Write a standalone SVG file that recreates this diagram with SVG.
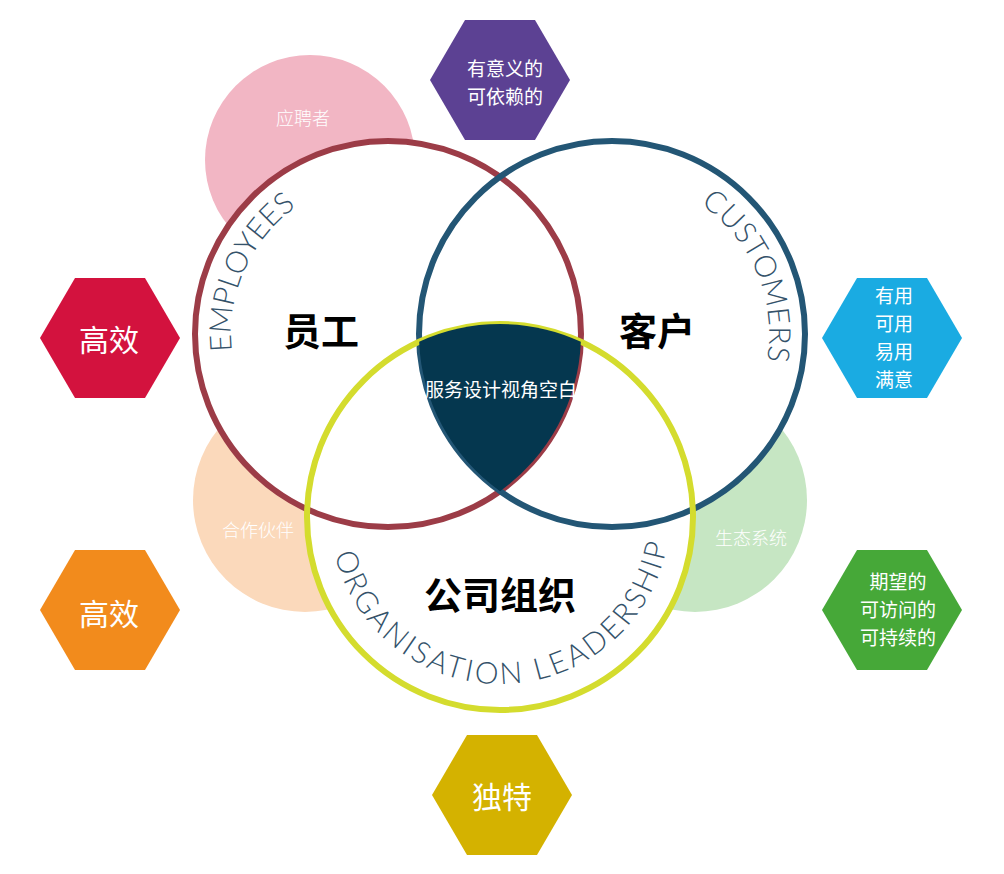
<svg xmlns="http://www.w3.org/2000/svg" width="1004" height="874" viewBox="0 0 1004 874">
<style>
.cjk{font-family:"Noto Sans CJK SC","Noto Sans",sans-serif;}
.hex-t{fill:#fff;font-size:19px;text-anchor:middle;dominant-baseline:central;}
.big-t{fill:#fff;font-size:30px;text-anchor:middle;dominant-baseline:central;}
.sm-t{fill:#fff;font-size:18px;font-weight:300;text-anchor:middle;dominant-baseline:central;}
.lbl{fill:#000;font-size:38px;font-weight:bold;text-anchor:middle;dominant-baseline:central;}
.arc-t{font-family:Lato,"Open Sans",sans-serif;font-weight:300;font-size:30px;fill:#34526a;}
.ring{fill:none;stroke-width:6;}
</style>
<defs>
<path id="pE" d="M 300.2 464.2 A 157 157 0 0 1 426.0 181.7"/>
<path id="pC" d="M 576.7 181.0 A 157 157 0 0 1 697.5 465.7"/>
<path id="pO" d="M 330.1 522.0 A 170 170 0 0 0 669.9 512.0"/>
</defs>
<rect width="1004" height="874" fill="#fff"/>

<g id="bubble-applicants">
<circle cx="310" cy="160" r="105" fill="#f2b6c4"/>
<text class="cjk sm-t" x="303" y="117">应聘者</text>
</g>
<g id="bubble-partners">
<circle cx="305" cy="500" r="112" fill="#fbd9bb"/>
</g>
<g id="bubble-ecosystem">
<circle cx="695" cy="500" r="112" fill="#c6e6c3"/>
</g>

<g id="circle-fills">
<circle cx="388" cy="334" r="193" fill="#fff"/>
<circle cx="612" cy="334" r="193" fill="#fff"/>
<circle cx="500" cy="517" r="193" fill="#fff"/>
</g>

<g id="bubble-labels">
<text class="cjk sm-t" x="258" y="529">合作伙伴</text>
<text class="cjk sm-t" x="751" y="537">生态系统</text>
</g>

<g id="employees">
<circle class="ring" cx="388" cy="334" r="193" stroke="#9c3c47"/>
<text class="arc-t"><textPath href="#pE" startOffset="50%" text-anchor="middle" textLength="166" lengthAdjust="spacing">EMPLOYEES</textPath></text>
<text class="cjk lbl" x="321" y="328">员工</text>
</g>
<g id="customers">
<circle class="ring" cx="612" cy="334" r="193" stroke="#235675"/>
<text class="arc-t"><textPath href="#pC" startOffset="50%" text-anchor="middle" textLength="180" lengthAdjust="spacing">CUSTOMERS</textPath></text>
<text class="cjk lbl" x="657" y="328">客户</text>
</g>
<g id="organisation">
<circle class="ring" cx="500" cy="517" r="193" stroke="#d4dc2e"/>
<text class="arc-t"><textPath href="#pO" startOffset="50%" text-anchor="middle" textLength="463" lengthAdjust="spacing">ORGANISATION LEADERSHIP</textPath></text>
<text class="cjk lbl" x="500" y="592">公司组织</text>
</g>

<g id="gap">
<path d="M 419.16 341.75 A 193 193 0 0 1 580.84 341.75 A 193 193 0 0 1 500 491.18 A 193 193 0 0 1 419.16 341.75 Z" fill="#05374f"/>
<text class="cjk hex-t" x="501" y="388">服务设计视角空白</text>
</g>

<g id="hex-meaningful">
<polygon points="430,80 465,20 535,20 570,80 535,140 465,140" fill="#5c4193"/>
<text class="cjk hex-t" x="505" y="67">有意义的</text>
<text class="cjk hex-t" x="505" y="95">可依赖的</text>
</g>
<g id="hex-efficient-1">
<polygon points="40,338 75,278 145,278 180,338 145,398 75,398" fill="#d3123e"/>
<text class="cjk big-t" x="109" y="338">高效</text>
</g>
<g id="hex-efficient-2">
<polygon points="40,610 75,550 145,550 180,610 145,670 75,670" fill="#f28b1c"/>
<text class="cjk big-t" x="109" y="612">高效</text>
</g>
<g id="hex-useful">
<polygon points="822,338 857,278 927,278 962,338 927,398 857,398" fill="#1aabe2"/>
<text class="cjk hex-t" x="894" y="294">有用</text>
<text class="cjk hex-t" x="894" y="322">可用</text>
<text class="cjk hex-t" x="894" y="350">易用</text>
<text class="cjk hex-t" x="894" y="378">满意</text>
</g>
<g id="hex-desirable">
<polygon points="822,610 857,550 927,550 962,610 927,670 857,670" fill="#46a838"/>
<text class="cjk hex-t" x="898" y="580">期望的</text>
<text class="cjk hex-t" x="898" y="608">可访问的</text>
<text class="cjk hex-t" x="898" y="636">可持续的</text>
</g>
<g id="hex-unique">
<polygon points="432,795 467,735 537,735 572,795 537,855 467,855" fill="#d4b200"/>
<text class="cjk big-t" x="502" y="795">独特</text>
</g>
</svg>
